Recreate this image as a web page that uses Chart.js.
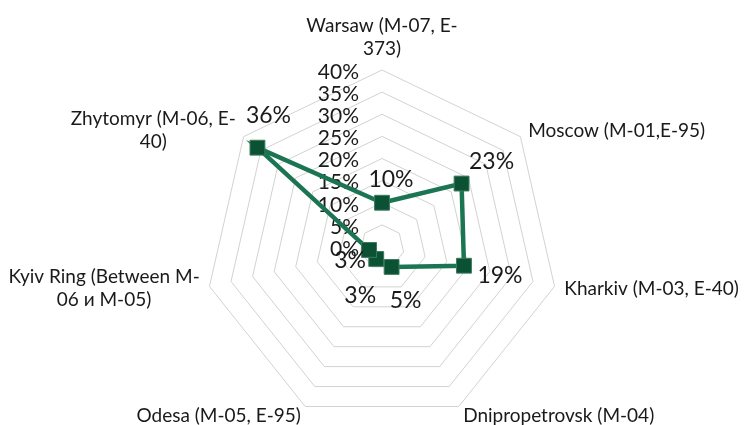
<!DOCTYPE html>
<html>
<head>
<meta charset="utf-8">
<script src="https://cdn.jsdelivr.net/npm/chart.js@4.4.1/dist/chart.umd.min.js"></script>
<style>
    html, body { margin: 0; padding: 0; background: #ffffff; }
    #wrap { width: 750px; height: 425px; position: relative; }
</style>
</head>
<body>
<div id="wrap"><canvas id="radarChart"></canvas></div>
<script>
// Routes (each label split in lines as on the original chart)
const categories = [
    ['Warsaw (M-07, E-', '373)'],
    ['Moscow (M-01,E-95)'],
    ['Kharkiv (M-03, E-40)'],
    ['Dnipropetrovsk (M-04)'],
    ['Odesa (M-05, E-95)'],
    ['Kyiv Ring (Between M-', '06 и M-05)'],
    ['Zhytomyr (M-06, E-', '40)']
];
const shares = [10, 23, 19, 5, 3, 3, 36];
const tickValues = [0, 5, 10, 15, 20, 25, 30, 35, 40];

const FONT = 'Lato, "DejaVu Sans", sans-serif';
const TEXT_COLOR = '#1a1a1a';

// Tick labels (0% .. 40%) to the left of the vertical axis
const tickLabels = {
    id: 'tickLabels',
    beforeDatasetsDraw(chart) {
        const scale = chart.scales.r;
        const ctx = chart.ctx;
        ctx.save();
        ctx.font = '21px ' + FONT;
        ctx.fillStyle = TEXT_COLOR;
        ctx.textAlign = 'right';
        ctx.textBaseline = 'middle';
        tickValues.forEach(v => {
            const y = scale.yCenter - scale.getDistanceFromCenterForValue(v);
            ctx.fillText(v + '%', scale.xCenter - 23, y + 2);
        });
        ctx.restore();
    }
};

// Category labels around the outer ring + value labels near the points
const textLayer = {
    id: 'textLayer',
    afterDatasetsDraw(chart, args, opts) {
        const scale = chart.scales.r;
        const ctx = chart.ctx;
        ctx.save();
        ctx.textAlign = 'center';
        ctx.textBaseline = 'middle';
        ctx.fillStyle = TEXT_COLOR;

        ctx.font = '19px ' + FONT;
        const lh = 23;
        categories.forEach((lines, i) => {
            const p = scale.getPointPosition(i, scale.drawingArea + 10);
            const cos = Math.cos(p.angle), sin = Math.sin(p.angle);
            const w = Math.max(...lines.map(l => ctx.measureText(l).width));
            const h = lines.length * lh;
            let cx = p.x;
            if (cos > 0.05) cx = p.x + w / 2;
            else if (cos < -0.05) cx = p.x - w / 2;
            let top = p.y - h / 2;
            if (sin < -0.95) top = p.y - h;
            else if (sin > 0.95) top = p.y;
            lines.forEach((l, k) => ctx.fillText(l, cx, top + lh * (k + 0.5)));
        });

        ctx.font = '23px ' + FONT;
        const meta = chart.getDatasetMeta(0);
        meta.data.forEach((pt, i) => {
            const off = opts.offsets[i];
            ctx.fillText(shares[i] + '%', pt.x + off[0], pt.y + off[1]);
        });
        ctx.restore();
    }
};

new Chart(document.getElementById('radarChart'), {
    type: 'radar',
    data: {
        labels: categories,
        datasets: [{
            data: shares,
            borderColor: '#1b7552',
            borderWidth: 4.5,
            backgroundColor: 'rgba(0,0,0,0)',
            fill: false,
            pointStyle: 'rect',
            pointRadius: 10.5,
            pointHoverRadius: 10.5,
            pointBackgroundColor: '#0b5234',
            pointBorderColor: '#3d7a5c',
            pointBorderWidth: 1
        }]
    },
    options: {
        responsive: true,
        maintainAspectRatio: false,
        animation: false,
        layout: { padding: { top: 70, bottom: 1, left: 14, right: 0 } },
        plugins: {
            legend: { display: false },
            tooltip: { enabled: false },
            textLayer: {
                offsets: [[9, -23], [30, -22], [36, 10], [14, 34], [-16, 37], [-19, 11], [11, -32]]
            }
        },
        scales: {
            r: {
                min: 0,
                max: 40,
                ticks: { stepSize: 5, display: false },
                grid: { color: '#d2d2d2', lineWidth: 1 },
                angleLines: { display: false },
                pointLabels: { display: false }
            }
        }
    },
    plugins: [tickLabels, textLayer]
});
</script>
</body>
</html>
